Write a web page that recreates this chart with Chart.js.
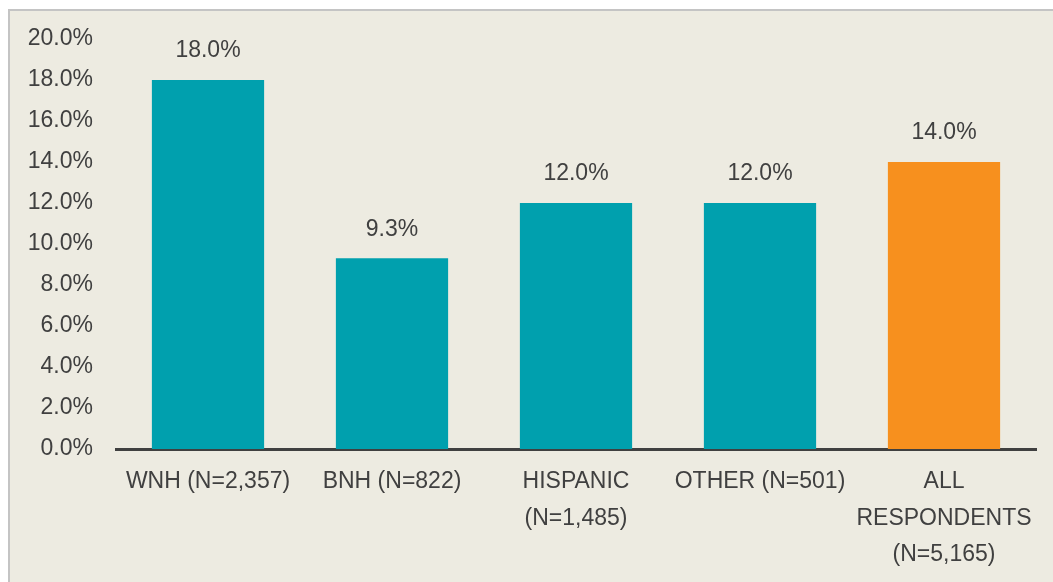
<!DOCTYPE html>
<html>
<head>
<meta charset="utf-8">
<script src="https://cdn.jsdelivr.net/npm/chart.js@4/dist/chart.umd.min.js"></script>
<style>
  html, body { margin: 0; padding: 0; background: #ffffff; overflow: hidden; }
  #wrap {
    position: absolute; left: 8px; top: 9px;
    width: 1045px; height: 573px;
    border-left: 2px solid #c4c4c4; border-top: 2px solid #c4c4c4;
    background: #edebe1;
  }
</style>
</head>
<body>
<div id="wrap"><canvas id="chart"></canvas></div>
<script>
const categories = [
  'WNH (N=2,357)',
  'BNH (N=822)',
  ['HISPANIC', '(N=1,485)'],
  'OTHER (N=501)',
  ['ALL', 'RESPONDENTS', '(N=5,165)'],
];
const values = [18.0, 9.3, 12.0, 12.0, 14.0];
const barColors = ['#00a0ae', '#00a0ae', '#00a0ae', '#00a0ae', '#f7901e'];

const textColor = '#404040';
const fontFamily = '"Liberation Sans", Arial, sans-serif';

// value labels above each bar
const valueLabels = {
  id: 'valueLabels',
  afterDatasetsDraw(chart) {
    const { ctx } = chart;
    const meta = chart.getDatasetMeta(0);
    ctx.save();
    ctx.font = `23px ${fontFamily}`;
    ctx.fillStyle = textColor;
    ctx.textAlign = 'center';
    ctx.textBaseline = 'middle';
    meta.data.forEach((bar, i) => {
      ctx.fillText(`${values[i].toFixed(1)}%`, bar.x, bar.y - 29);
    });
    ctx.restore();
  },
};

const ctx = document.getElementById('chart').getContext('2d');
new Chart(ctx, {
  type: 'bar',
  data: {
    labels: categories,
    datasets: [{
      data: values,
      backgroundColor: barColors,
      categoryPercentage: 1,
      barPercentage: 0.61,
    }],
  },
  options: {
    responsive: true,
    maintainAspectRatio: false,
    animation: false,
    layout: { padding: { top: 28, right: 19, left: 0, bottom: 0 } },
    plugins: {
      legend: { display: false },
      tooltip: { enabled: false },
    },
    scales: {
      x: {
        grid: { display: false, drawTicks: false },
        border: { display: true, color: '#404040', width: 3 },
        ticks: {
          color: textColor,
          font: { family: fontFamily, size: 23, lineHeight: 1.6 },
          padding: 14,
          maxRotation: 0,
          autoSkip: false,
        },
        afterFit: (scale) => { scale.height = 135; },
      },
      y: {
        min: 0,
        max: 20,
        grid: { display: false, drawTicks: false },
        border: { display: false },
        ticks: {
          stepSize: 2,
          color: textColor,
          font: { family: fontFamily, size: 23 },
          padding: 23,
          callback: (v) => `${Number(v).toFixed(1)}%`,
        },
        afterFit: (scale) => {
          scale.width = 106;
          scale.paddingTop = 0;
          scale.paddingBottom = 0;
        },
      },
    },
  },
  plugins: [valueLabels],
});
</script>
</body>
</html>
